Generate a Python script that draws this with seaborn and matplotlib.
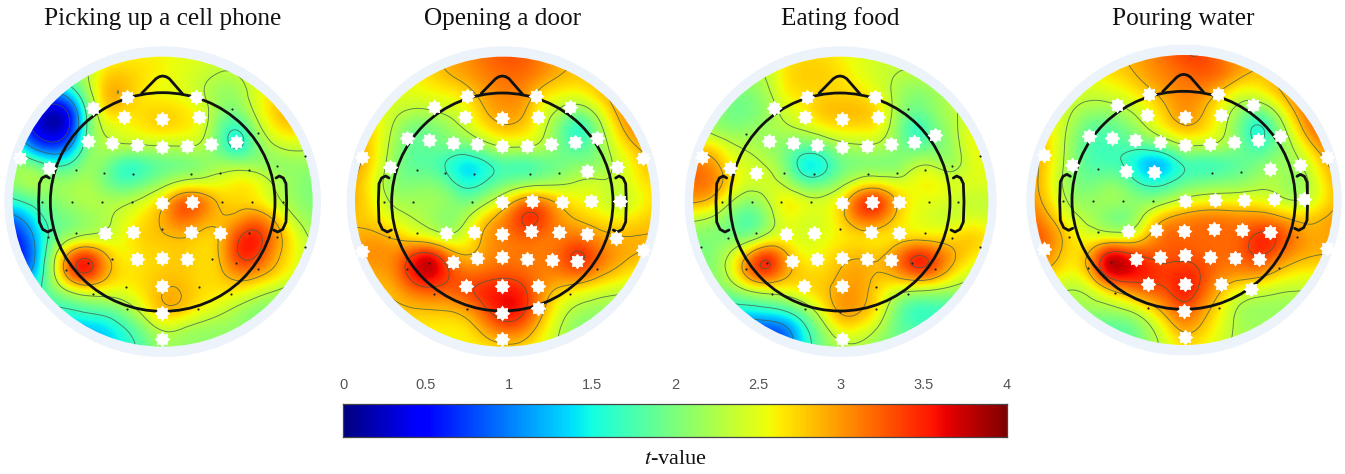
import numpy as np
import matplotlib
matplotlib.use("Agg")
import matplotlib.pyplot as plt
import matplotlib.tri as mtri
from matplotlib.patches import Ellipse
from matplotlib.path import Path
import seaborn as sns

titles = ["Picking up a cell phone", "Opening a door", "Eating food", "Pouring water"]
tick_values = [0, 0.5, 1, 1.5, 2, 2.5, 3, 3.5, 4]
tick_labels = ["0", "0.5", "1", "1.5", "2", "2.5", "3", "3.5", "4"]
contour_levels = [0.6, 1.15, 1.7, 2.32, 2.85, 3.35, 3.9]

# t-values, on a 17 x 17 sampling of the disc
tvals_phone = [
 [2.3,2.3,2.3,2.3,2.3,2.5,2.6,2.6,2.6,2.5,2.5,2.4,2.4,2.5,2.5,2.5,2.5],
 [2.0,2.0,1.8,2.0,2.3,2.8,2.8,2.7,2.6,2.5,2.4,2.3,2.3,2.5,2.6,2.6,2.6],
 [1.5,1.5,1.0,1.4,2.2,3.0,2.9,2.6,2.5,2.5,2.3,2.1,2.1,2.5,2.7,2.8,2.8],
 [1.0,0.6,0.05,0.2,1.9,2.9,2.7,2.7,2.8,2.7,2.6,2.1,2.0,2.5,2.8,3.0,2.9],
 [1.2,0.4,0.05,0.15,2.0,2.4,2.5,2.7,2.8,2.7,2.6,1.9,1.4,2.2,2.7,2.8,2.7],
 [2.0,0.9,0.6,0.9,2.1,2.3,2.4,2.3,2.3,2.3,2.4,1.9,1.2,2.0,2.3,2.4,2.3],
 [2.2,2.2,1.8,1.7,2.2,2.0,1.4,1.6,1.8,1.8,1.9,2.2,2.3,2.1,2.0,2.1,2.1],
 [2.1,2.4,2.2,2.2,2.3,1.9,1.7,1.9,2.1,2.4,2.4,2.5,2.7,2.7,2.3,2.1,2.0],
 [1.6,1.8,2.0,2.2,2.3,2.3,2.3,2.5,2.8,3.5,3.4,2.8,2.7,2.6,2.3,2.1,2.0],
 [0.8,1.3,1.9,1.9,2.1,2.2,2.5,2.7,2.9,3.3,3.0,2.8,2.9,3.3,2.9,2.3,2.1],
 [0.4,1.0,1.8,2.1,2.2,2.3,2.6,2.8,2.8,2.8,2.7,2.7,3.5,3.7,3.1,2.6,2.2],
 [0.4,0.7,2.1,3.3,3.8,2.9,2.5,2.7,2.7,2.8,2.7,2.7,3.6,3.5,2.9,2.6,2.3],
 [0.8,1.0,2.1,3.4,3.8,2.9,2.7,2.7,2.8,2.8,2.7,2.7,3.1,3.0,2.8,2.5,2.3],
 [1.5,1.6,1.9,2.2,2.4,2.5,2.5,2.7,2.9,2.9,2.7,2.7,2.6,2.4,2.2,2.1,2.1],
 [1.5,1.5,1.6,1.6,1.8,1.8,2.1,2.5,3.0,2.9,2.6,2.4,2.2,2.0,2.0,2.0,2.0],
 [1.2,1.2,1.2,1.2,1.2,1.3,1.6,2.0,2.4,2.2,2.1,2.1,2.1,2.0,2.0,2.0,2.0],
 [1.2,1.2,1.2,1.2,1.2,1.3,1.5,1.8,2.2,2.1,2.1,2.1,2.1,2.0,2.0,2.0,2.0],
]
tvals_door = [
 [2.8,2.8,2.8,2.8,2.8,2.9,3.0,3.2,3.3,3.3,3.1,2.9,2.8,2.8,2.8,2.8,2.8],
 [2.6,2.6,2.6,2.6,2.7,2.9,3.0,3.1,3.2,3.2,3.1,2.9,2.8,2.8,2.9,2.9,2.9],
 [2.6,2.6,2.5,2.5,2.6,2.6,2.7,3.0,3.1,3.1,2.7,2.6,2.6,2.8,3.0,3.1,3.1],
 [2.7,2.6,2.4,2.3,2.3,2.4,2.5,2.9,3.0,3.0,2.5,2.3,2.0,2.4,2.9,3.2,3.2],
 [2.9,2.7,2.3,1.9,1.9,2.1,2.4,2.7,2.9,2.8,2.5,1.9,1.3,2.0,2.7,3.1,3.2],
 [3.0,2.7,2.2,1.8,1.9,2.0,1.9,2.2,2.4,2.4,2.4,2.0,1.7,2.0,2.5,2.8,3.0],
 [3.0,2.7,2.1,1.8,1.8,1.5,1.2,1.4,1.7,1.5,1.7,1.9,2.1,2.0,2.3,2.6,2.9],
 [2.9,2.5,2.0,2.0,2.1,1.9,1.4,1.7,1.9,2.0,2.1,2.2,2.4,2.5,2.3,2.6,2.7],
 [2.9,2.6,2.2,2.2,2.2,2.2,1.9,2.2,2.6,3.3,3.3,2.8,2.6,2.5,2.2,2.4,2.7],
 [2.8,2.7,2.5,2.3,2.2,1.9,2.3,2.9,3.1,3.6,3.5,3.0,2.8,2.7,2.6,2.7,2.8],
 [2.9,3.0,2.9,2.6,2.4,2.2,2.5,3.0,3.1,3.2,3.1,3.1,3.2,3.0,2.9,2.9,2.9],
 [3.0,3.1,3.0,3.5,4.0,3.2,2.7,3.0,3.1,3.1,3.1,3.2,3.7,3.3,3.0,2.9,2.8],
 [2.9,2.9,3.0,3.6,3.9,3.4,3.2,3.2,3.3,3.2,3.1,3.1,3.3,3.0,2.8,2.6,2.5],
 [2.8,2.8,2.8,3.1,3.2,3.2,3.4,3.6,3.6,3.6,3.0,2.7,2.5,2.4,2.3,2.3,2.3],
 [2.8,2.8,2.8,2.8,2.8,2.8,2.9,3.3,3.7,3.6,3.0,2.4,2.2,2.1,2.1,2.1,2.1],
 [2.6,2.6,2.6,2.6,2.6,2.6,2.6,3.0,3.3,3.2,2.7,2.3,2.0,2.0,2.0,2.0,2.0],
 [2.6,2.6,2.6,2.6,2.6,2.6,2.6,2.6,2.7,2.7,2.5,2.3,2.0,2.0,2.0,2.0,2.0],
]
tvals_food = [
 [2.4,2.4,2.4,2.4,2.4,2.7,2.7,2.7,2.6,2.5,2.4,2.4,2.4,2.4,2.4,2.4,2.4],
 [2.2,2.2,2.2,2.2,2.3,2.7,2.8,2.8,2.7,2.5,2.4,2.3,2.3,2.4,2.4,2.4,2.4],
 [2.1,2.1,2.0,2.0,2.2,2.7,2.7,2.7,2.7,2.7,2.5,2.2,2.0,2.1,2.3,2.4,2.4],
 [2.2,2.2,1.9,1.9,2.1,2.4,2.6,2.9,2.9,2.9,2.8,2.2,1.9,2.1,2.3,2.4,2.4],
 [2.3,2.1,2.0,2.1,2.2,2.3,2.4,2.6,2.7,2.7,2.7,2.1,1.4,1.9,2.2,2.6,2.5],
 [2.7,2.8,2.4,2.3,2.1,2.0,1.8,1.9,2.2,2.2,2.3,2.1,1.8,1.9,2.1,2.6,2.5],
 [3.2,3.1,2.6,2.4,2.4,2.0,1.2,1.3,1.9,1.9,1.9,1.9,2.4,2.4,2.0,2.5,2.5],
 [3.2,3.2,2.8,2.4,2.5,2.3,1.8,1.9,2.1,2.5,2.6,2.4,2.6,2.7,2.5,2.5,2.5],
 [3.0,2.9,2.3,2.0,2.3,2.8,2.6,2.5,2.7,3.6,3.8,2.9,2.5,2.5,2.4,2.3,2.3],
 [2.3,2.2,1.9,1.6,2.0,2.6,2.4,2.4,2.7,3.2,3.2,2.7,2.5,2.4,2.3,2.5,2.4],
 [2.0,2.0,2.0,1.9,2.3,2.5,2.4,2.5,2.6,2.6,2.5,2.6,2.6,2.6,2.7,2.9,2.7],
 [2.0,2.0,2.4,3.1,3.85,3.0,2.5,2.6,2.8,2.9,2.8,3.1,3.8,3.5,3.0,2.7,2.5],
 [2.0,2.0,2.4,3.3,3.6,2.9,2.8,2.7,2.9,3.0,2.8,3.0,3.4,3.3,2.7,2.4,2.3],
 [2.0,2.0,2.0,2.2,2.3,2.5,2.7,2.8,3.0,3.0,2.7,2.3,2.1,2.1,2.1,2.1,2.1],
 [1.5,1.5,1.5,1.5,1.6,1.7,2.0,2.6,3.1,3.0,2.7,1.9,1.5,1.6,1.6,1.6,1.6],
 [0.7,0.7,0.7,0.7,0.7,0.8,1.5,2.1,2.7,2.6,2.3,1.9,1.8,1.8,1.8,1.8,1.8],
 [0.7,0.7,0.7,0.7,0.7,0.8,1.5,2.0,2.2,2.2,2.1,1.9,1.8,1.8,1.8,1.8,1.8],
]
tvals_water = [
 [2.8,2.8,2.8,2.8,2.8,2.9,3.0,3.2,3.4,3.4,3.1,2.9,2.9,2.9,2.9,2.9,2.9],
 [2.7,2.7,2.6,2.6,2.7,2.8,3.0,3.1,3.2,3.3,3.3,3.0,2.8,2.9,3.0,3.0,3.0],
 [2.6,2.6,2.5,2.4,2.5,2.6,2.8,3.0,3.1,3.1,2.8,2.5,2.6,2.9,3.1,3.2,3.2],
 [2.7,2.6,2.3,2.2,2.2,2.3,2.5,2.8,3.1,2.9,2.5,2.1,2.0,2.4,3.0,3.3,3.3],
 [2.8,2.6,2.2,1.8,1.8,2.0,2.4,2.7,3.0,2.8,2.5,1.9,1.2,2.0,2.7,3.3,3.4],
 [3.0,2.6,2.1,1.7,1.7,1.8,1.9,2.1,2.4,2.4,2.4,2.0,1.6,1.9,2.4,2.9,3.2],
 [3.0,2.6,2.1,1.7,1.7,1.6,1.0,1.0,1.7,1.5,1.6,1.8,2.0,2.2,2.1,2.6,3.0],
 [3.0,2.5,2.0,1.9,2.1,1.9,1.5,1.6,1.8,1.9,2.0,2.0,2.2,2.3,2.0,2.4,2.9],
 [3.0,2.6,2.1,2.1,2.3,2.2,2.0,2.1,2.4,2.5,2.5,2.5,2.5,2.3,2.1,2.4,2.8],
 [3.2,2.8,2.4,2.2,1.9,1.8,2.5,3.0,3.1,3.2,3.2,3.1,3.1,3.0,2.8,2.8,3.0],
 [3.4,3.1,2.7,2.4,2.3,2.2,2.8,3.3,3.2,3.2,3.2,3.2,3.55,3.55,3.1,2.9,3.0],
 [3.3,3.0,2.6,2.9,4.0,3.6,3.3,3.2,3.3,3.2,3.2,3.2,3.6,3.2,3.0,2.9,2.9],
 [2.9,2.8,2.5,2.9,4.0,3.8,3.6,3.4,3.5,3.4,3.1,3.1,3.1,2.8,2.6,2.6,2.6],
 [2.4,2.3,2.2,2.3,2.7,3.0,3.3,3.3,3.7,3.3,2.8,2.5,2.4,2.3,2.3,2.3,2.3],
 [2.2,2.2,2.2,2.2,2.2,2.3,2.6,3.0,3.4,3.0,2.6,2.1,2.1,2.1,2.1,2.1,2.1],
 [1.8,1.8,1.8,1.8,1.8,1.8,2.1,2.6,3.1,2.8,2.5,2.2,2.2,2.2,2.2,2.2,2.2],
 [1.8,1.8,1.8,1.8,1.8,1.8,2.1,2.4,2.7,2.6,2.4,2.2,2.2,2.2,2.2,2.2,2.2],
]

# significant electrodes (white stars) and remaining electrodes (small dots)
stars_phone_x = [280,380,588,373,486,596,265,337,410,486,562,634,707,60,147,486,576,315,400,574,659,410,486,562,486,486,486]
stars_phone_y = [323,290,290,351,356,352,422,429,435,441,439,433,426,473,503,610,605,700,697,695,698,778,773,777,858,938,1018]
dots_phone_x = [695,775,915,830,228,313,400,573,660,746,125,215,305,397,666,757,850,228,143,486,746,830,915,265,197,337,637,708,775,378,596,280,694,380,594]
dots_phone_y = [327,400,467,497,511,518,521,521,518,511,605,605,605,605,605,605,605,700,712,688,700,712,742,790,810,778,778,790,808,860,860,882,882,927,927]

stars_door_x = [283,380,587,691,374,486,595,201,268,339,411,486,561,632,705,771,66,150,909,830,742,486,576,665,753,841,317,401,486,574,658,742,827,66,909,339,411,487,561,636,710,379,487,593,594,486,486]
stars_door_y = [322,288,288,322,350,354,351,413,421,428,433,438,437,432,425,413,471,502,475,501,514,607,604,605,603,603,699,696,701,694,696,703,715,754,750,785,775,771,776,780,783,857,857,857,925,938,1016]
dots_door_x = [231,316,401,571,657,219,397,132,231,147,268,202,772,282,690,380]
dots_door_y = [510,518,521,521,518,605,605,605,700,712,790,808,808,882,882,927]

stars_food_x = [283,380,586,374,486,594,268,339,411,486,561,632,703,765,67,151,229,486,575,657,318,401,572,657,336,411,486,561,632,373,486,486]
stars_food_y = [323,290,290,351,356,352,423,429,435,441,438,433,426,405,472,503,519,609,605,605,701,698,695,698,782,778,773,777,781,858,858,1017]
dots_food_x = [685,197,900,817,311,401,565,651,735,215,304,392,746,835,125,227,144,480,735,817,62,900,262,197,697,765,587,277,685,375,480,587]
dots_food_y = [327,401,467,497,518,521,521,518,511,605,605,605,605,605,605,700,714,688,700,714,742,742,790,808,790,808,860,882,882,927,937,927]

stars_water_x = [335,432,640,745,427,541,648,252,320,391,464,541,615,687,760,826,116,200,965,884,364,447,796,541,630,718,807,897,368,453,538,626,712,796,117,965,392,464,541,615,690,762,430,541,647,738,538,541]
stars_water_y = [316,283,283,316,344,350,345,407,414,421,426,434,432,426,419,407,465,496,470,495,513,517,507,602,599,600,598,597,692,690,694,687,690,697,748,745,778,771,766,771,773,776,852,852,852,866,932,1010]
dots_water_x = [278,622,707,174,265,355,445,278,193,877,317,248,822,330,428,642]
dots_water_y = [508,518,515,602,602,602,602,695,710,710,785,805,805,880,923,923]

# head outline, in the same map units (relative to the head centre)
nose_x = [-63, -20, -10, 0, 10, 20, 60]
nose_y = [-326, -370, -376, -378, -376, -370, -324]
ear_x = [-340, -350, -362, -370, -372, -370, -360, -345, -333]
ear_y = [-72, -78, -72, -55, 0, 60, 82, 90, 84]

panels = [
 dict(crop=0,    cx=488, cy=605, rx=450, ry=435, hx=488, hcy=606, hrx=337, hry=328, data=tvals_phone,
      sx=stars_phone_x, sy=stars_phone_y, dx=dots_phone_x, dy=dots_phone_y),
 dict(crop=340,  cx=490, cy=605, rx=445, ry=435, hx=487, hcy=606, hrx=332, hry=327, data=tvals_door,
      sx=stars_door_x, sy=stars_door_y, dx=dots_door_x, dy=dots_door_y),
 dict(crop=680,  cx=482, cy=605, rx=443, ry=435, hx=480, hcy=606, hrx=330, hry=327, data=tvals_food,
      sx=stars_food_x, sy=stars_food_y, dx=dots_food_x, dy=dots_food_y),
 dict(crop=1005, cx=537, cy=600, rx=448, ry=435, hx=536, hcy=601, hrx=335, hry=327, data=tvals_water,
      sx=stars_water_x, sy=stars_water_y, dx=dots_water_x, dy=dots_water_y),
]


def soften(Z):
    # light blur so contour lines follow the broad shapes, not the sampling grid
    k = np.array([0.2, 0.6, 0.2])
    P = np.pad(Z, 1, mode="edge")
    P = np.apply_along_axis(lambda r: np.convolve(r, k, mode="same"), 0, P)
    P = np.apply_along_axis(lambda r: np.convolve(r, k, mode="same"), 1, P)
    return P[1:-1, 1:-1]


sns.set_theme(style="white")
plt.rcParams["font.family"] = ["Liberation Serif", "DejaVu Serif"]
plt.rcParams["mathtext.fontset"] = "stix"

W, H = 1345, 474
fig = plt.figure(figsize=(W / 100, H / 100), dpi=100, facecolor="white")
star = Path.unit_regular_star(8, innerCircle=0.7)

for title, p in zip(titles, panels):
    ax = fig.add_axes([p["crop"] / W, 1 - 360 / H, 340 / W, 360 / H], facecolor="none")
    Z = np.array(p["data"], dtype=float)
    sx_step, sy_step = p["rx"] / 8, p["ry"] / 8
    xs = p["cx"] + (np.arange(17) - 8) * sx_step
    ys = p["cy"] + (np.arange(17) - 8) * sy_step

    ring = Ellipse((p["cx"], p["cy"]), 2 * p["rx"] + 50, 2 * p["ry"] + 62,
                   fc="#edf3fb", ec="none", zorder=1)
    ax.add_patch(ring)
    disc = Ellipse((p["cx"], p["cy"]), 2 * p["rx"], 2 * p["ry"], fc="none", ec="none", zorder=1)
    ax.add_patch(disc)

    im = ax.imshow(Z, cmap="jet", vmin=0, vmax=4, interpolation="bicubic", aspect="auto", origin="upper",
                   extent=(xs[0] - sx_step / 2, xs[-1] + sx_step / 2, ys[-1] + sy_step / 2, ys[0] - sy_step / 2),
                   zorder=2)
    im.set_clip_path(disc)

    X, Y = np.meshgrid(xs, ys)
    tri = mtri.Triangulation(X.ravel(), Y.ravel())
    Zc = soften(Z).ravel()
    interp = mtri.CubicTriInterpolator(tri, Zc, kind="min_E")
    rtri, rz = mtri.UniformTriRefiner(tri).refine_field(Zc, triinterpolator=interp, subdiv=3)
    cs = ax.tricontour(rtri, rz, levels=contour_levels, colors="#3c5a4a", linewidths=0.65, alpha=0.75, zorder=3)
    cs.set_clip_path(disc)

    ax.add_patch(Ellipse((p["hx"], p["hcy"]), 2 * p["hrx"], 2 * p["hry"], fc="none", ec="#111111", lw=2.0, zorder=4))
    hx = p["hx"]
    hcy = p["hcy"]
    ax.plot(hx + np.array(nose_x), hcy + np.array(nose_y), color="#111111", lw=2.0, zorder=4, solid_joinstyle="round")
    ax.plot(hx + np.array(ear_x), hcy + np.array(ear_y), color="#111111", lw=2.0, zorder=4, solid_joinstyle="round")
    ax.plot(hx - np.array(ear_x), hcy + np.array(ear_y), color="#111111", lw=2.0, zorder=4, solid_joinstyle="round")

    sns.scatterplot(x=p["dx"], y=p["dy"], ax=ax, s=2.5, color="#222222", linewidth=0, zorder=5, legend=False)
    sns.scatterplot(x=p["sx"], y=p["sy"], ax=ax, marker=star, s=130, color="white", linewidth=0, zorder=6, legend=False)

    ax.set_xlim(0, 1020)
    ax.set_ylim(1080, 0)
    ax.set_axis_off()
    ax.text(p["hx"], 56, title, ha="center", va="center", fontsize=18.2, color="#111111", zorder=7)

# colour bar
cax = fig.add_axes([343 / W, 1 - 437 / H, 664 / W, 33 / H])
gradient = np.linspace(tick_values[0], tick_values[-1], 256).reshape(1, -1)
sns.heatmap(gradient, ax=cax, cmap="jet", vmin=0, vmax=4, cbar=False, xticklabels=False, yticklabels=False)
cax.set_xticks([v / tick_values[-1] * 256 for v in tick_values[1:-1]])
cax.set_xticklabels([])
cax.set_yticks([])
cax.tick_params(axis="x", top=True, bottom=False, direction="in", length=3, width=0.8, color="#333333")
for s in cax.spines.values():
    s.set_visible(True)
    s.set_color("#444444")
    s.set_linewidth(0.9)
for v, lab in zip(tick_values, tick_labels):
    fig.text((343 + v / tick_values[-1] * 664) / W, 1 - 385 / H, lab, ha="center", va="center",
             fontsize=10.5, color="#555555", family=["Liberation Sans", "DejaVu Sans"])
fig.text(676 / W, 1 - 460 / H, r"$\mathit{t}$-value", ha="center", va="center", fontsize=16, color="#111111")

fig.savefig("out.png", dpi=100)
